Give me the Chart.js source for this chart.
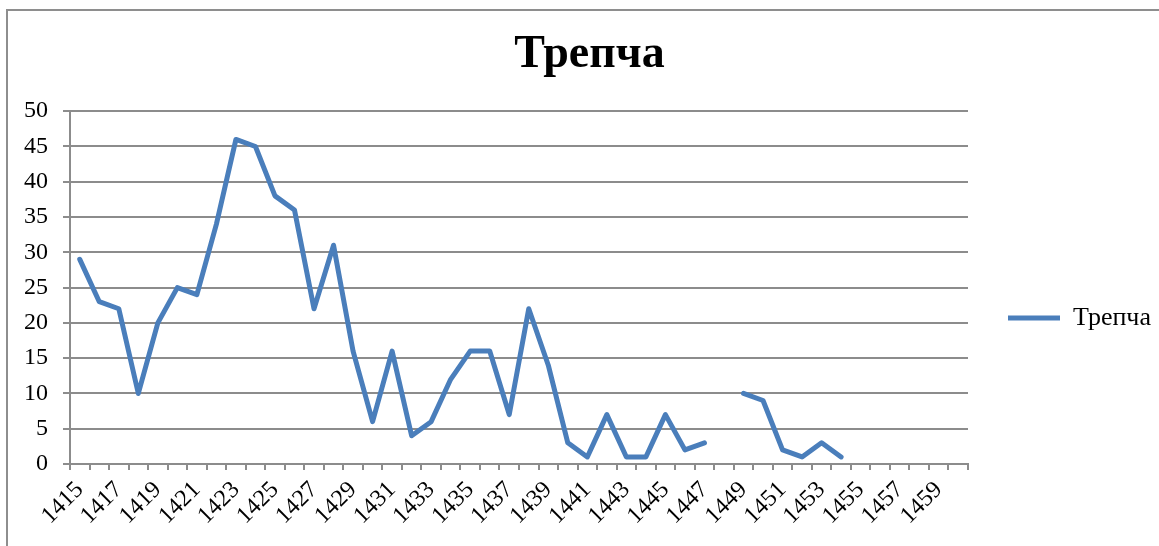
<!DOCTYPE html>
<html>
<head>
<meta charset="utf-8">
<script src="https://cdn.jsdelivr.net/npm/chart.js@4/dist/chart.umd.min.js"></script>
<style>
  html, body { margin: 0; padding: 0; background: #ffffff; }
  #wrap { position: relative; width: 1159px; height: 546px; overflow: hidden; }
  #frame { position: absolute; left: 6px; top: 9px; width: 1200px; height: 600px;
           border-left: 2px solid #8e8e8e; border-top: 2px solid #8e8e8e; pointer-events: none; }
  canvas { position: absolute; left: 0; top: 0; }
</style>
</head>
<body>
<div id="wrap">
  <canvas id="c" width="1159" height="546"></canvas>
  <div id="frame"></div>
</div>
<script>
const chartTitle = 'Трепча';
const seriesName = 'Трепча';
const years = [
  '1415','1416','1417','1418','1419','1420','1421','1422','1423','1424',
  '1425','1426','1427','1428','1429','1430','1431','1432','1433','1434',
  '1435','1436','1437','1438','1439','1440','1441','1442','1443','1444',
  '1445','1446','1447','1448','1449','1450','1451','1452','1453','1454',
  '1455','1456','1457','1458','1459','1460'
];
const values = [
  29, 23, 22, 10, 20, 25, 24, 34, 46, 45,
  38, 36, 22, 31, 16, 6, 16, 4, 6, 12,
  16, 16, 7, 22, 14, 3, 1, 7, 1, 1,
  7, 2, 3, null, 10, 9, 2, 1, 3, 1,
  null, null, null, null, null, null
];
const yTicks = [0, 5, 10, 15, 20, 25, 30, 35, 40, 45, 50];

const lineColor = '#4a7ebb';
const gridColor = '#8c8c8c';
const serif = "'Liberation Serif', 'Times New Roman', serif";

new Chart(document.getElementById('c'), {
  type: 'line',
  data: {
    labels: years,
    datasets: [{
      label: seriesName,
      data: values,
      borderColor: lineColor,
      backgroundColor: lineColor,
      borderWidth: 5,
      borderCapStyle: 'round',
      borderJoinStyle: 'round',
      pointRadius: 0,
      pointHoverRadius: 0,
      tension: 0,
      spanGaps: false,
      fill: false
    }]
  },
  options: {
    responsive: false,
    animation: false,
    events: [],
    layout: { padding: { left: 20, right: 0, top: 0, bottom: 0 } },
    plugins: {
      tooltip: { enabled: false },
      title: {
        display: true,
        text: chartTitle,
        color: '#000000',
        font: { family: serif, size: 46, weight: 'bold' },
        padding: { top: 28, bottom: 28 }
      },
      legend: {
        display: true,
        position: 'right',
        maxWidth: 191,
        title: { display: true, text: '', font: { size: 10 }, padding: { top: 78, bottom: 0 } },
        labels: {
          color: '#000000',
          font: { family: serif, size: 26 },
          usePointStyle: true,
          pointStyle: 'line',
          pointStyleWidth: 52,
          boxWidth: 52,
          padding: 40
        }
      }
    },
    scales: {
      x: {
        type: 'category',
        offset: true,
        afterFit: (s) => { s.height = 82; },
        grid: {
          display: true,
          offset: true,
          drawOnChartArea: false,
          drawTicks: true,
          tickLength: 6,
          color: gridColor,
          lineWidth: 2
        },
        border: { display: true, color: gridColor, width: 2 },
        ticks: {
          autoSkip: false,
          maxRotation: 45,
          minRotation: 45,
          padding: 6,
          color: '#000000',
          font: { family: serif, size: 24 },
          callback: function (val, idx) {
            return idx % 2 === 0 ? this.getLabelForValue(val) : '';
          }
        }
      },
      y: {
        min: yTicks[0],
        max: yTicks[yTicks.length - 1],
        afterFit: (s) => { s.width = 50; },
        afterBuildTicks: (s) => { s.ticks = yTicks.map(v => ({ value: v })); },
        grid: {
          color: gridColor,
          lineWidth: 2,
          drawTicks: true,
          tickLength: 7
        },
        border: { display: true, color: gridColor, width: 2 },
        ticks: {
          padding: 15,
          color: '#000000',
          font: { family: serif, size: 24 }
        }
      }
    }
  }
});
</script>
</body>
</html>
